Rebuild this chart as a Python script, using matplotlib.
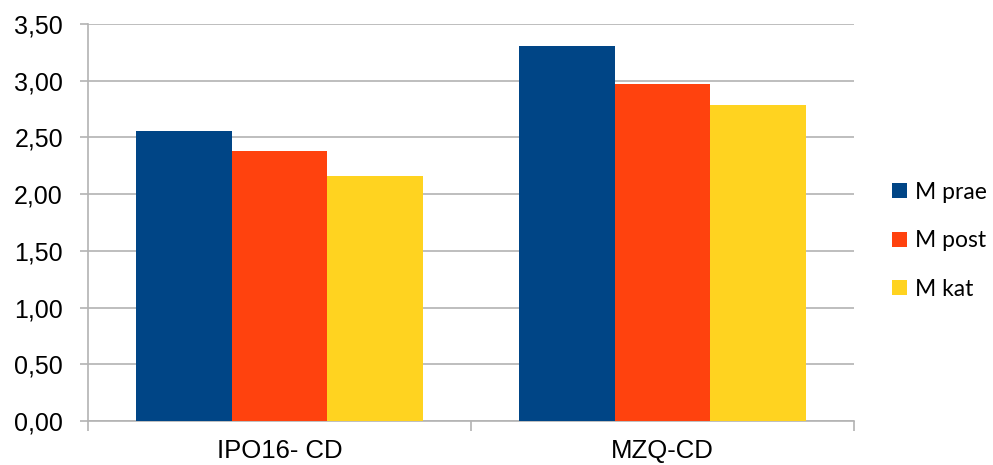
import matplotlib
matplotlib.use("Agg")
import matplotlib.pyplot as plt
import numpy as np
from matplotlib.patches import Patch

categories = ["IPO16- CD", "MZQ-CD"]
series_names = ["M prae", "M post", "M kat"]
m_prae = [2.56, 3.31]
m_post = [2.38, 2.97]
m_kat = [2.16, 2.79]
colors = ["#004586", "#ff420e", "#ffd320"]
y_ticks = [0.0, 0.5, 1.0, 1.5, 2.0, 2.5, 3.0, 3.5]

axis_font = ["Liberation Sans", "DejaVu Sans"]
legend_font = ["Lato", "DejaVu Sans"]

fig = plt.figure(figsize=(9.93, 4.65), dpi=100)
ax = fig.add_axes([0.0886, 0.0946, 0.7714, 0.8538])

series = [m_prae, m_post, m_kat]
x = np.arange(len(categories))
width = 0.25
for i, (vals, col) in enumerate(zip(series, colors)):
    ax.bar(x + (i - 1) * width, vals, width, color=col, zorder=3,
           edgecolor="none", label=series_names[i])

ax.set_xlim(-0.5, len(categories) - 0.5)
ax.set_ylim(0, 3.5)
ax.set_yticks(y_ticks)
ax.set_yticklabels([f"{v:.2f}".replace(".", ",") for v in y_ticks],
                   family=axis_font, fontsize=18)
ax.yaxis.grid(True, color="#b3b3b3", linewidth=1.2, zorder=0)
ax.set_axisbelow(True)

# category ticks sit on the boundaries, labels in the centres
ax.set_xticks([-0.5, 0.5, 1.5])
ax.set_xticklabels([])
ax.set_xticks(x, minor=True)
ax.set_xticklabels(categories, minor=True, family=axis_font, fontsize=18.5)
ax.tick_params(axis="x", which="minor", length=0, pad=13)
ax.tick_params(axis="x", which="major", length=7, color="#b3b3b3", width=1.2)
ax.tick_params(axis="y", length=6, color="#b3b3b3", width=1.2, pad=12)

for s in ["top", "right"]:
    ax.spines[s].set_visible(False)
for s in ["left", "bottom"]:
    ax.spines[s].set_color("#b3b3b3")
    ax.spines[s].set_linewidth(1.2)

handles = [Patch(facecolor=c, edgecolor="none") for c in colors]
fig.legend(handles, series_names, loc="center left",
           bbox_to_anchor=(0.898, 0.482), frameon=False,
           prop={"family": legend_font, "size": 16.5},
           handlelength=0.65, handleheight=0.65, handletextpad=0.35,
           labelspacing=1.2, borderaxespad=0, borderpad=0)

fig.savefig("out.png", dpi=100)
